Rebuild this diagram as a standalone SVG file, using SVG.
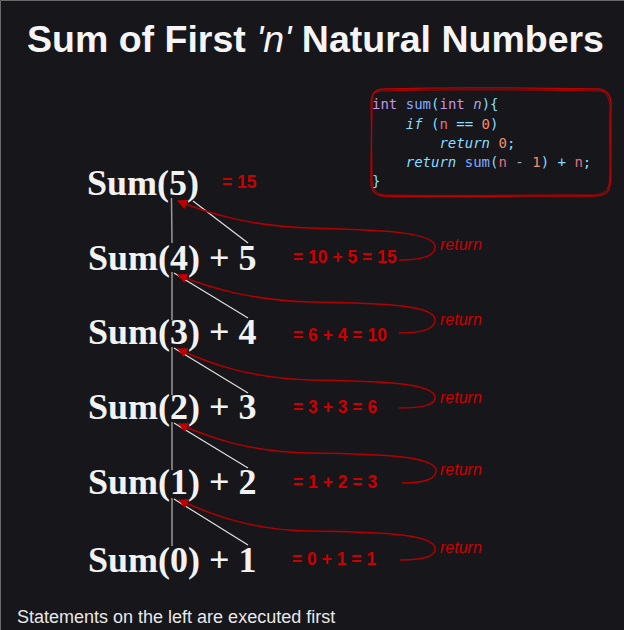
<svg xmlns="http://www.w3.org/2000/svg" width="624" height="630" viewBox="0 0 624 630">
<defs>
<marker id="ah" viewBox="0 0 10 10" refX="9" refY="5" markerWidth="10" markerHeight="10" markerUnits="userSpaceOnUse" orient="auto">
<path d="M0,0 L10,5 L0,10 z" fill="#c00000"/>
</marker>
<style>
.title{font-family:"Liberation Sans",Arial,sans-serif;font-weight:bold;font-size:37.5px;fill:#f5f5f5}
.node{font-family:"Liberation Serif","Times New Roman",serif;font-weight:bold;font-size:36px;fill:#f2f2f2}
.val{font-family:"Liberation Sans",Arial,sans-serif;font-weight:bold;font-size:17.5px;fill:#cc0000}
.ret{font-family:"Liberation Sans",Arial,sans-serif;font-style:italic;font-size:16px;fill:#cc0000}
.foot{font-family:"Liberation Sans",Arial,sans-serif;font-size:18px;fill:#e8e8e8}
.code{font-family:"DejaVu Sans Mono",monospace;font-size:14px;fill:#89ddff;white-space:pre}
.kw{fill:#c792ea}.fn{fill:#82aaff}.it{font-style:italic}.v{fill:#e07080}.num{fill:#f78c6c}.p{fill:#a6accd}
.vl{stroke:#9a9a9a;stroke-width:1.5;fill:none}
.dl{stroke:#e0e0e0;stroke-width:1.2;fill:none}
.ar{stroke:#b00000;stroke-width:1.5;fill:none;marker-end:url(#ah)}
</style>
</defs>
<rect x="0" y="0" width="624" height="630" fill="#16161b"/>
<path d="M0.5,630 V0.5 H624" stroke="#6a6a6a" stroke-width="1" fill="none"/>
<text class="title" x="315.5" y="52" text-anchor="middle">Sum of First <tspan font-style="italic" font-weight="normal">'n'</tspan> Natural Numbers</text>

<g id="code">
<path d="M384,89 C450,87 540,88 598,89 C608,90 612,96 611,108 C610,140 612,170 610,185 C609,194 602,197 590,196 C520,196 440,197 383,196 C374,195 371,190 371,180 C371,150 372,120 372,100 C372,93 376,89 384,89 Z" fill="none" stroke="#c00000" stroke-width="1.3"/>
<path d="M382,91 C450,89 545,90 600,91 C607,92 610,99 610,110 C609,140 611,172 609,184 C608,192 600,196 588,195 C520,195 440,196 384,195 C376,194 372,189 372,178 C372,150 371,120 371,102 C371,95 375,91 382,91 Z" fill="none" stroke="#c00000" stroke-width="0.9"/>
<text class="code" x="372" y="109"><tspan class="kw">int</tspan> <tspan class="fn">sum</tspan>(<tspan class="kw">int</tspan> <tspan class="p it">n</tspan>){</text>
<text class="code" x="372" y="129">    <tspan class="it">if</tspan> (<tspan class="v">n</tspan> == <tspan class="num">0</tspan>)</text>
<text class="code" x="372" y="148">        <tspan class="it">return</tspan> <tspan class="num">0</tspan>;</text>
<text class="code" x="372" y="167">    <tspan class="it">return</tspan> <tspan class="fn">sum</tspan>(<tspan class="v">n</tspan> <tspan class="p">-</tspan> <tspan class="num">1</tspan>) + <tspan class="v">n</tspan>;</text>
<text class="code" x="372" y="186">}</text>
</g>

<g id="connectors">
<path class="vl" d="M171.5,198 L172,243"/>
<path class="vl" d="M172,272 V320"/>
<path class="vl" d="M172,347 V395"/>
<path class="vl" d="M172,422 V470"/>
<path class="vl" d="M172,498 V546"/>
<path class="dl" d="M193,201 L248,243"/>
<path class="dl" d="M174,273 L248,318"/>
<path class="dl" d="M174,348 L248,393"/>
<path class="dl" d="M174,423 L248,468"/>
<path class="dl" d="M174,499 L248,545"/>
<path class="ar" d="M399,260 C425,260 436,255 435,246 C433,233 390,230 310,228 C250,226 210,214 178,201"/>
<path class="ar" d="M399,333 C425,333 436,328 435,319 C433,306 390,303 310,302 C250,300 210,288 178,275"/>
<path class="ar" d="M399,408 C425,408 436,404 435,397 C433,384 390,381 310,380 C250,378 210,364 178,349"/>
<path class="ar" d="M402,483 C427,483 437,478 436,470 C434,457 390,454 310,453 C250,452 210,438 179,424"/>
<path class="ar" d="M400,560 C425,560 436,556 435,548 C433,535 390,532 310,531 C250,530 210,514 179,500"/>
</g>

<g id="n5"><text class="node" x="87" y="195">Sum(5)</text><text class="val" x="222" y="188">= 15</text></g>
<g id="n4"><text class="node" x="88" y="270">Sum(4) + 5</text><text class="val" x="293" y="263">= 10 + 5 = 15</text><text class="ret" x="440" y="250">return</text></g>
<g id="n3"><text class="node" x="88" y="344">Sum(3) + 4</text><text class="val" x="293" y="341">= 6 + 4 = 10</text><text class="ret" x="440" y="325">return</text></g>
<g id="n2"><text class="node" x="88" y="419">Sum(2) + 3</text><text class="val" x="293" y="413">= 3 + 3 = 6</text><text class="ret" x="440" y="403">return</text></g>
<g id="n1"><text class="node" x="88" y="494">Sum(1) + 2</text><text class="val" x="293" y="488">= 1 + 2 = 3</text><text class="ret" x="440" y="475">return</text></g>
<g id="n0"><text class="node" x="88" y="572">Sum(0) + 1</text><text class="val" x="292" y="565">= 0 + 1 = 1</text><text class="ret" x="440" y="553">return</text></g>

<text class="foot" x="17" y="623">Statements on the left are executed first</text>
</svg>
